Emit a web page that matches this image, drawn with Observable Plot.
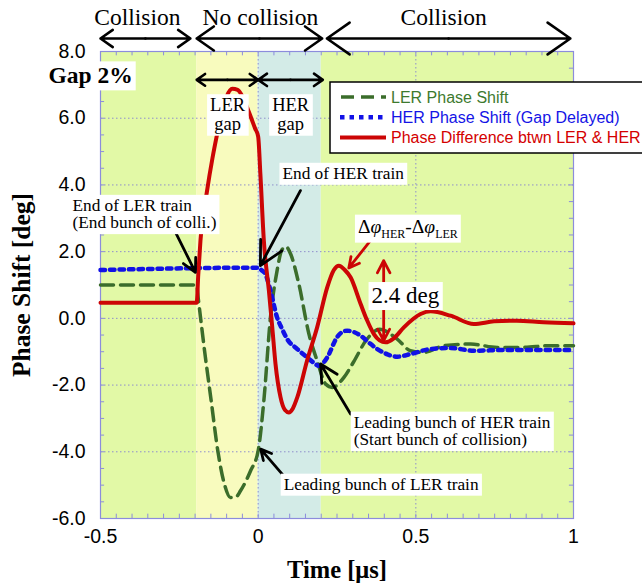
<!DOCTYPE html>
<html><head><meta charset="utf-8">
<script src="https://cdn.jsdelivr.net/npm/d3@7"></script>
<script src="https://cdn.jsdelivr.net/npm/@observablehq/plot@0.6"></script>
<style>body{margin:0;background:#fff}#chart{width:642px;height:586px;overflow:hidden}</style>
</head><body><div id="chart"></div>
<script>
// ---- data (time in µs, phase in deg) ----
const lerTime  = [-0.5,-0.195,-0.19,-0.17,-0.149,-0.128,-0.107,-0.088,-0.07,-0.056,-0.024,0,0.018,0.039,0.06,0.075,0.088,0.103,0.129,0.161,0.187,0.214,0.235,0.272,0.303,0.343,0.385,0.441,0.483,0.525,0.589,0.674,0.758,0.843,0.92,1.0];
const lerPhase = [1.0,1.0,0.6,-0.97,-2.47,-3.97,-4.97,-5.37,-5.35,-5.17,-4.57,-3.97,-2.47,0.03,1.43,2.05,2.15,1.93,1.03,-0.47,-1.27,-1.97,-2.07,-1.77,-1.3,-0.65,-0.33,-0.62,-0.97,-1.02,-0.82,-0.77,-0.87,-0.87,-0.82,-0.82];
const herTime  = [-0.5,0,0.01,0.023,0.039,0.06,0.075,0.092,0.124,0.155,0.175,0.192,0.205,0.219,0.25,0.265,0.282,0.325,0.35,0.378,0.41,0.441,0.483,0.547,0.61,0.684,0.779,0.885,1.0];
const herPhase = [1.45,1.52,1.45,1.33,0.83,0.03,-0.3,-0.62,-0.92,-1.17,-1.32,-1.42,-1.35,-1.17,-0.57,-0.42,-0.37,-0.52,-0.72,-0.92,-1.08,-1.15,-1.07,-0.92,-0.89,-0.97,-0.95,-0.95,-0.95];
const diffTime  = [-0.5,-0.195,-0.19,-0.183,-0.162,-0.145,-0.13,-0.115,-0.1,-0.082,-0.065,-0.05,-0.03,-0.01,0,0.007,0.018,0.034,0.045,0.055,0.071,0.085,0.097,0.11,0.124,0.155,0.187,0.219,0.24,0.256,0.275,0.293,0.325,0.345,0.367,0.385,0.404,0.43,0.462,0.515,0.547,0.61,0.684,0.748,0.82,0.905,1.0];
const diffPhase = [0.47,0.47,1.3,2.33,3.83,4.8,5.53,6.2,6.65,6.88,6.85,6.65,6.2,5.7,5.45,4.33,2.33,0.83,-0.3,-1.37,-2.37,-2.75,-2.82,-2.7,-2.37,-1.27,-0.27,0.93,1.45,1.58,1.45,1.23,0.43,-0.05,-0.47,-0.66,-0.72,-0.6,-0.27,0.13,0.21,0.08,-0.17,-0.09,-0.07,-0.12,-0.15];
const seriesNames = ["LER Phase Shift","HER Phase Shift (Gap Delayed)","Phase Difference btwn LER & HER"];

const regionStart = [-0.5,-0.195,0,0.2];
const regionEnd   = [-0.195,0,0.2,1];
const regionKind  = ["collision","ler-gap","her-gap","collision"];

const xTicks = [-0.5,0,0.5,1];
const yTicks = [-6,-4,-2,0,2,4,6,8];

// annotations
const phaseLabels = ["Collision","No collision","Collision"];
const phaseLabelX = [-0.383,0.007,0.588];
const phaseArrowFrom = [-0.5,-0.195,0.218];
const phaseArrowTo   = [-0.215,0.203,0.99];
const gapLabels = ["LER\ngap","HER\ngap"];
const gapLabelX = [-0.097,0.103];
const gapFrom = [-0.195,0];
const gapTo   = [0,0.205];
const noteTexts = ["End of LER train\n(End bunch of colli.)","End of HER train","Leading bunch of HER train\n(Start bunch of collision)","Leading bunch of LER train"];
const noteX = [-0.589,0.077,0.303,0.081];
const noteY = [3.13,4.35,-3.37,-4.97];
const noteArrowX1 = [-0.262,0.134,0.293,0.081];
const noteArrowY1 = [2.58,3.83,-2.87,-4.72];
const noteArrowX2 = [-0.199,0.007,0.198,0.008];
const noteArrowY2 = [1.38,1.58,-1.37,-3.92];

// ---- build ----
const serif = "'Liberation Serif','Times New Roman',serif";
const sans = "'Liberation Sans',Arial,Helvetica,sans-serif";
const C = {ler:"#3b6d2b", her:"#1212e6", diff:"#cc0505", frame:"#8c8cdc", grid:"#8e8ecc"};
const regionFill = {"collision":"#e2f9a6","ler-gap":"#f8fbbe","her-gap":"#d3ebe7"};
const regions = regionStart.map((s,i)=>({start:s,end:regionEnd[i],kind:regionKind[i]}));
const ler = lerTime.map((t,i)=>({t,v:lerPhase[i]}));
const her = herTime.map((t,i)=>({t,v:herPhase[i]}));
const diff = diffTime.map((t,i)=>({t,v:diffPhase[i]}));
const minorX = d3.range(0,31).map(i=>-0.5+i*0.05);
const minorY = d3.range(0,29).map(i=>-6+i*0.5);
const phaseArrows = [];
phaseArrowFrom.forEach((a,i)=>{const m=(a+phaseArrowTo[i])/2; phaseArrows.push({x1:m,x2:a},{x1:m,x2:phaseArrowTo[i]});});
const gapArrows = [];
gapFrom.forEach((a,i)=>{const m=(a+gapTo[i])/2; gapArrows.push({x1:m,x2:a},{x1:m,x2:gapTo[i]});});
const notes = noteTexts.map((t,i)=>({t,x:noteX[i],y:noteY[i]}));
const noteArrows = noteArrowX1.map((x,i)=>({x1:x,y1:noteArrowY1[i],x2:noteArrowX2[i],y2:noteArrowY2[i]}));

const plot = Plot.plot({
  width:642, height:586,
  marginLeft:100, marginRight:69, marginTop:51, marginBottom:68,
  style:{fontFamily:sans, fontSize:"19.5px", background:"transparent", color:"#000"},
  x:{domain:[-0.5,1], ticks:xTicks, tickFormat:d=>String(d), tickSize:0, tickPadding:11, label:null},
  y:{domain:[-6,8], ticks:yTicks, tickFormat:d=>d.toFixed(1), tickSize:0, tickPadding:15, label:null},
  marks:[
    Plot.rect(regions,{x1:"start",x2:"end",fill:d=>regionFill[d.kind]}),
    Plot.ruleX(xTicks.slice(1,-1),{stroke:C.grid,strokeDasharray:"1.5,2.5",strokeWidth:1}),
    Plot.ruleY(yTicks.slice(1,-1),{stroke:C.grid,strokeDasharray:"1.5,2.5",strokeWidth:1}),
    Plot.ruleX(minorX,{y1:-6,y2:-5.87,stroke:C.frame}),
    Plot.ruleX(minorX,{y1:8,y2:7.87,stroke:C.frame}),
    Plot.ruleY(minorY,{x1:-0.5,x2:-0.487,stroke:C.frame}),
    Plot.ruleY(minorY,{x1:1,x2:0.987,stroke:C.frame}),
    Plot.frame({stroke:C.frame,strokeWidth:1.2}),
    Plot.line(ler,{x:"t",y:"v",stroke:C.ler,strokeWidth:3.5,strokeDasharray:"13,7",curve:"monotone-x"}),
    Plot.line(her,{x:"t",y:"v",stroke:C.her,strokeWidth:4.5,strokeDasharray:"4.5,5",curve:"monotone-x"}),
    Plot.line(diff,{x:"t",y:"v",stroke:C.diff,strokeWidth:4,curve:"monotone-x"}),
    // top phase arrows & labels
    Plot.arrow(phaseArrows,{x1:"x1",x2:"x2",y1:()=>8.39,y2:()=>8.39,stroke:"#000",strokeWidth:2.6,headLength:16,headAngle:70}),
    Plot.text(phaseLabels,{x:(d,i)=>phaseLabelX[i],y:()=>9.02,text:d=>d,fontFamily:serif,fontSize:23.5,fill:"#000"}),
    Plot.arrow(gapArrows,{x1:"x1",x2:"x2",y1:()=>7.15,y2:()=>7.15,stroke:"#000",strokeWidth:2.6,headLength:15,headAngle:70}),
    // annotation arrows
    Plot.arrow(noteArrows,{x1:"x1",y1:"y1",x2:"x2",y2:"y2",stroke:"#000",strokeWidth:2.8,headLength:14,headAngle:55}),
    Plot.arrow([{x1:0.356,y1:2.33,x2:0.2875,y2:1.51}],{x1:"x1",y1:"y1",x2:"x2",y2:"y2",stroke:C.diff,strokeWidth:2.8,headLength:14,headAngle:55}),
    Plot.arrow([{y1:0.5,y2:1.73},{y1:0.5,y2:-0.67}],{x1:()=>0.398,x2:()=>0.398,y1:"y1",y2:"y2",stroke:C.diff,strokeWidth:2.8,headLength:16,headAngle:55}),
    // boxed texts
    Plot.text(gapLabels,{x:(d,i)=>gapLabelX[i],y:()=>6.11,text:d=>d,fontFamily:serif,fontSize:18.5,lineHeight:1.0,fill:"#000",ariaDescription:"boxed"}),
    Plot.text(notes,{x:"x",y:"y",text:"t",textAnchor:"start",fontFamily:serif,fontSize:17.3,lineHeight:1.0,fill:"#000",ariaDescription:"boxed"}),
    Plot.text(["Gap 2%"],{x:()=>-0.665,y:()=>7.27,text:d=>d,textAnchor:"start",fontFamily:serif,fontWeight:"bold",fontSize:23.5,fill:"#000",ariaDescription:"boxed"}),
    Plot.text(["2.4 deg"],{x:()=>0.467,y:()=>0.68,text:d=>d,fontFamily:serif,fontSize:23,fill:"#000",ariaDescription:"boxed"}),
    // axis titles
    Plot.text(["Phase Shift [deg]"],{frameAnchor:"left",dx:-79,rotate:-90,textAnchor:"middle",lineAnchor:"middle",text:d=>d,fontFamily:serif,fontWeight:"bold",fontSize:25.5,fill:"#000"}),
    Plot.text(["Time [μs]"],{frameAnchor:"bottom",dy:52,textAnchor:"middle",lineAnchor:"middle",text:d=>d,fontFamily:serif,fontWeight:"bold",fontSize:24.5,fill:"#000"})
  ]
});
document.getElementById("chart").appendChild(plot);
const svg = d3.select(plot.tagName.toLowerCase()==="svg"?plot:plot.querySelector("svg"));
const xs = plot.scale("x"), ys = plot.scale("y");

function boxText(textEl, pad){
  const b = textEl.getBBox();
  const r = d3.select(textEl.parentNode).insert("rect",()=>textEl)
    .attr("x",b.x-pad).attr("y",b.y-pad+2).attr("width",b.width+2*pad).attr("height",b.height+2*pad-3)
    .attr("fill","#fff").attr("stroke","none");
  const tr = textEl.getAttribute("transform");
  if (tr) r.attr("transform",tr);
}
svg.selectAll('g[aria-description="boxed"] text').each(function(){boxText(this,3);});

// Δφ label
const dg = svg.append("g").attr("font-family",serif).attr("font-size",19.5).attr("fill","#000").attr("text-anchor","start");
const dt = dg.append("text").attr("x",xs.apply(0.318)).attr("y",ys.apply(2.73)).attr("dy","0.3em");
dt.append("tspan").text("Δ");
dt.append("tspan").attr("font-style","italic").text("φ");
dt.append("tspan").attr("font-size",12).attr("dy",5).text("HER");
dt.append("tspan").attr("dy",-5).text("-Δ");
dt.append("tspan").attr("font-style","italic").text("φ");
dt.append("tspan").attr("font-size",12).attr("dy",5).text("LER");
boxText(dt.node(),3);

// legend
const lg = svg.append("g").attr("text-anchor","start");
lg.append("rect").attr("x",330).attr("y",82).attr("width",330).attr("height",71).attr("fill","#fff").attr("stroke","#000").attr("stroke-width",1.5);
const legendStyle = [
  {c:C.ler, w:3.5, dash:"13,7", tc:"#3d7a2e"},
  {c:C.her, w:4.5, dash:"4.5,5", tc:"#1414e6"},
  {c:C.diff, w:4, dash:null, tc:"#d40000"}
];
seriesNames.forEach((name,i)=>{
  const y = 97 + i*20.3, s = legendStyle[i];
  const ln = lg.append("line").attr("x1",i===0?341:340).attr("x2",386).attr("y1",y).attr("y2",y).attr("stroke",s.c).attr("stroke-width",s.w);
  if (s.dash) ln.attr("stroke-dasharray",s.dash);
  lg.append("text").attr("x",391).attr("y",y).attr("dy","0.35em").attr("font-family",sans).attr("font-size",16).attr("fill",s.tc).text(name);
});
</script>
</body></html>
